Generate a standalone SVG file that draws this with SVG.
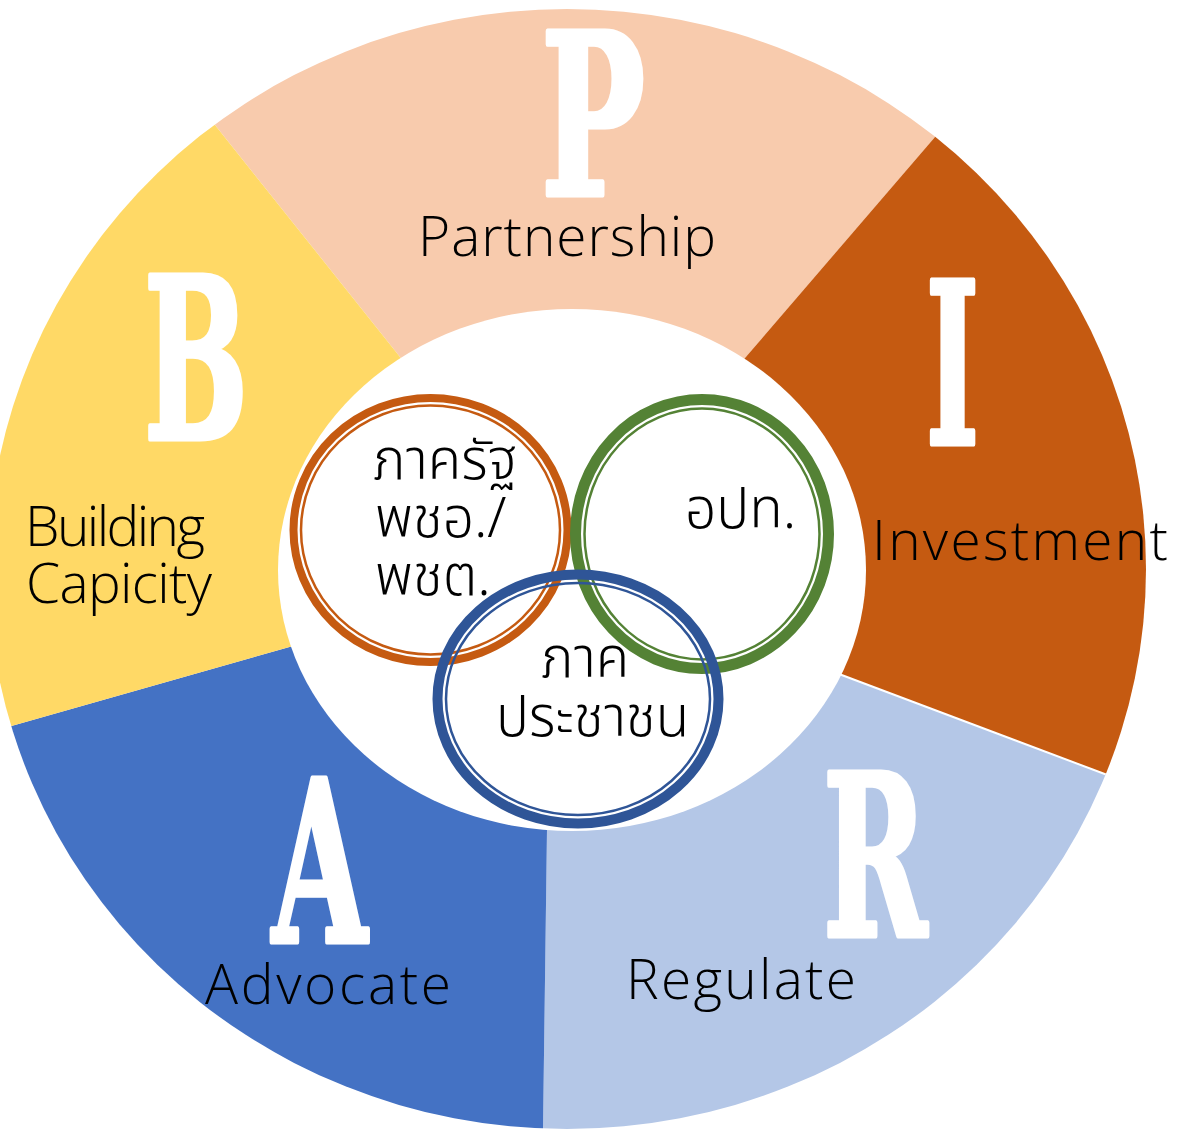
<svg xmlns="http://www.w3.org/2000/svg" width="1178" height="1131" viewBox="0 0 1178 1131">
<style>
.big{font-family:"DejaVu Serif Condensed","DejaVu Serif","Liberation Serif",serif;font-stretch:condensed;font-weight:bold;fill:#fff;stroke:#fff;stroke-width:5;stroke-linejoin:round;font-size:224px}
.lbl{font-family:"Open Sans","Lato","Noto Sans",sans-serif;font-weight:300;fill:#000;font-size:55px}
.th{font-family:"Noto Sans Thai","Noto Sans","DejaVu Sans",sans-serif;font-weight:300;fill:#000;font-size:55px}
</style>
<defs>
<clipPath id="outer"><ellipse cx="567" cy="569" rx="579" ry="560"/></clipPath>
</defs>
<rect width="1178" height="1131" fill="#fff"/>
<g clip-path="url(#outer)">
<g id="seg-P"><polygon points="570,570 400,357 75.5,-50 1095.8,-50 745,358" fill="#F8CBAD"/></g>
<g id="seg-I"><polygon points="570,570 745,358 1095.8,-50 1250,-50 1250,828.5 839,674" fill="#C55A11"/></g>
<g id="seg-R"><polygon points="570,570 839,674 1250,828.5 1250,1250 541.4,1250 547,829" fill="#B4C7E7"/></g>
<g id="seg-A"><polygon points="570,570 547,829 541.4,1250 -100,1250 -100,757.5 293,646" fill="#4472C4"/></g>
<g id="seg-B"><polygon points="570,570 293,646 -100,757.5 -100,-50 75.5,-50 400,357" fill="#FFD966"/></g>
<line x1="839" y1="674" x2="1110" y2="776" stroke="#fff" stroke-width="2"/>
</g>
<ellipse id="hub" cx="572" cy="570" rx="294" ry="261" fill="#fff"/>
<g id="letters">
<text class="big" x="541" y="195" textLength="104" lengthAdjust="spacingAndGlyphs">P</text>
<text class="big" x="144" y="439" textLength="104" lengthAdjust="spacingAndGlyphs">B</text>
<text class="big" x="926" y="444" textLength="53" lengthAdjust="spacingAndGlyphs">I</text>
<text class="big" x="272" y="942" textLength="95" lengthAdjust="spacingAndGlyphs">A</text>
<text class="big" x="823" y="936" textLength="104" lengthAdjust="spacingAndGlyphs">R</text>
</g>
<g id="labels">
<text class="lbl" x="418" y="256" textLength="298" lengthAdjust="spacing">Partnership</text>
<text class="lbl" x="25" y="546" textLength="180" lengthAdjust="spacing">Building</text>
<text class="lbl" x="26" y="603" textLength="186" lengthAdjust="spacing">Capicity</text>
<text class="lbl" x="872" y="560" textLength="296" lengthAdjust="spacing">Investment</text>
<text class="lbl" x="205" y="1004" textLength="246" lengthAdjust="spacing">Advocate</text>
<text class="lbl" x="626" y="999" textLength="230" lengthAdjust="spacing">Regulate</text>
</g>
<g id="ring-state">
<ellipse cx="430.5" cy="530" rx="137" ry="132" fill="none" stroke="#C55A11" stroke-width="8"/>
<ellipse cx="430.5" cy="530" rx="129.5" ry="124.5" fill="none" stroke="#C55A11" stroke-width="2.5"/>
</g>
<g id="ring-local">
<ellipse cx="702" cy="534" rx="126.5" ry="134.5" fill="none" stroke="#548235" stroke-width="11"/>
<ellipse cx="702" cy="534" rx="117.5" ry="125.5" fill="none" stroke="#548235" stroke-width="2.5"/>
</g>
<g id="ring-people">
<ellipse cx="578" cy="699" rx="140.5" ry="124.5" fill="none" stroke="#2F5597" stroke-width="10"/>
<ellipse cx="578" cy="699" rx="132" ry="116" fill="none" stroke="#2F5597" stroke-width="2.5"/>
</g>
<g id="ring-texts">
<text class="th" x="373" y="479">ภาครัฐ</text>
<text class="th" x="375" y="537">พชอ./</text>
<text class="th" x="375" y="595">พชต.</text>
<text class="th" x="685" y="528">อปท.</text>
<text class="th" x="541" y="677">ภาค</text>
<text class="th" x="496" y="736">ประชาชน</text>
</g>
</svg>
